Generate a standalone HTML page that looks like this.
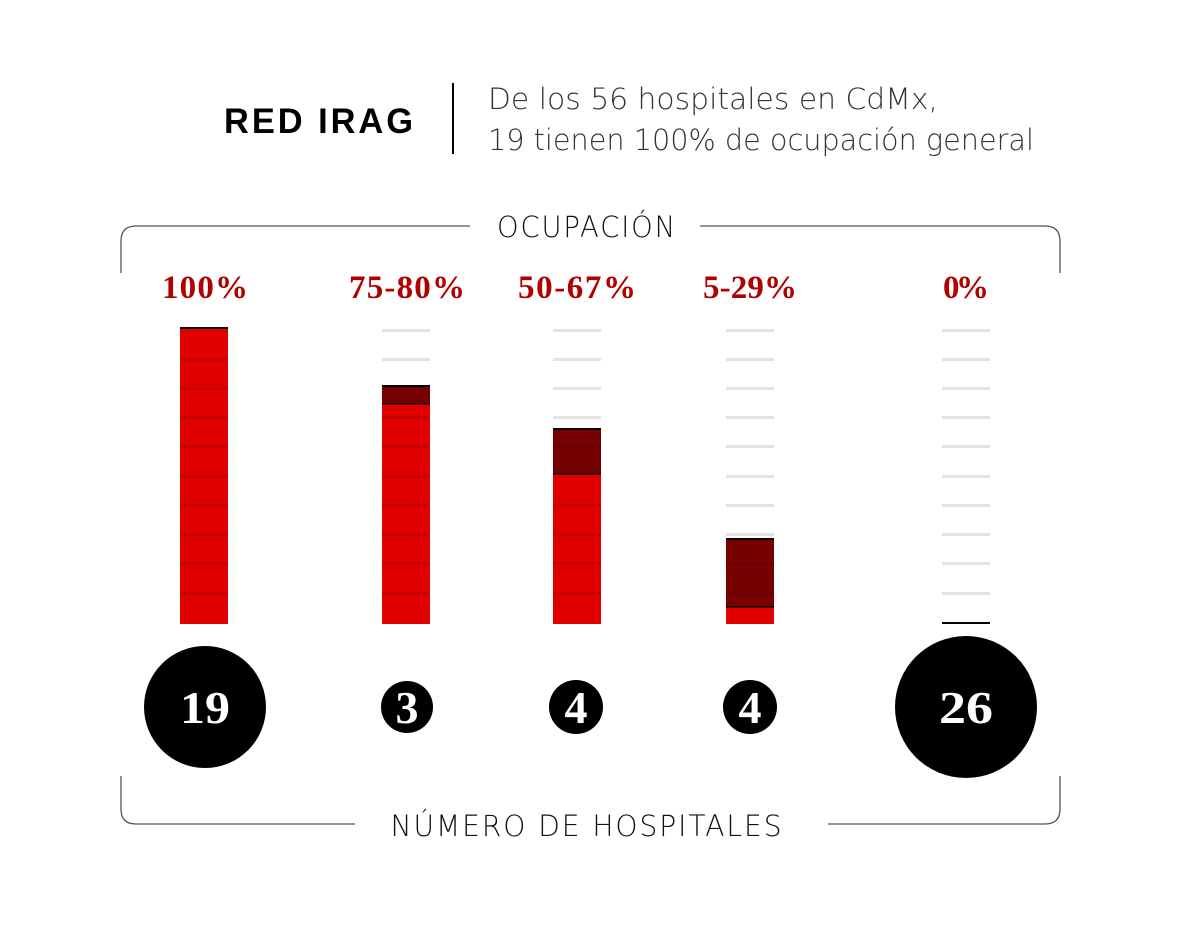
<!DOCTYPE html>
<html><head><meta charset="utf-8"><style>
html,body{margin:0;padding:0;background:#fff;}
svg{display:block}
</style></head><body>
<svg width="1200" height="940" viewBox="0 0 1200 940" xmlns="http://www.w3.org/2000/svg">
<rect width="1200" height="940" fill="#fff"/>
<text x="224" y="133" font-family="Liberation Sans, sans-serif" font-weight="bold" font-size="35" letter-spacing="3" fill="#000" textLength="192" lengthAdjust="spacingAndGlyphs">RED IRAG</text>
<line x1="453" y1="83" x2="453" y2="154" stroke="#000" stroke-width="2"/>
<g font-family="DejaVu Sans, sans-serif" font-weight="200" font-size="29" fill="#333">
<text x="488" y="109" textLength="450" lengthAdjust="spacingAndGlyphs">De los 56 hospitales en CdMx,</text>
<text x="488" y="150" textLength="546" lengthAdjust="spacingAndGlyphs">19 tienen 100% de ocupación general</text>
</g>
<path d="M121 273 V241 Q121 226 136 226 H470 M700 226 H1045 Q1060 226 1060 241 V273" fill="none" stroke="#555" stroke-width="1.3"/>
<path d="M121 776 V809 Q121 824 136 824 H355 M828 824 H1045 Q1060 824 1060 809 V776" fill="none" stroke="#555" stroke-width="1.3"/>
<text x="587" y="237" text-anchor="middle" font-family="DejaVu Sans, sans-serif" font-weight="200" font-size="29" letter-spacing="2" fill="#111" textLength="180" lengthAdjust="spacingAndGlyphs">OCUPACIÓN</text>
<text x="587" y="836" text-anchor="middle" font-family="DejaVu Sans, sans-serif" font-weight="200" font-size="29" letter-spacing="2" fill="#111" textLength="393" lengthAdjust="spacingAndGlyphs">NÚMERO DE HOSPITALES</text>
<g font-family="Liberation Serif, serif" font-weight="bold" font-size="33" fill="#b00000" text-anchor="middle" lengthAdjust="spacingAndGlyphs">
<text x="205" y="298" textLength="86">100%</text>
<text x="407" y="298" textLength="116">75-80%</text>
<text x="577" y="298" textLength="118">50-67%</text>
<text x="750" y="298" textLength="94">5-29%</text>
<text x="966" y="298" textLength="46">0%</text>
</g>
<g fill="#e3e3e3">
<rect x="382" y="329" width="48" height="3"/><rect x="382" y="358" width="48" height="3"/>
<rect x="553" y="329" width="48" height="3"/><rect x="553" y="358" width="48" height="3"/><rect x="553" y="387" width="48" height="3"/><rect x="553" y="416" width="48" height="3"/>
<rect x="726" y="329" width="48" height="3"/><rect x="726" y="358" width="48" height="3"/><rect x="726" y="387" width="48" height="3"/><rect x="726" y="416" width="48" height="3"/><rect x="726" y="445" width="48" height="3"/><rect x="726" y="475" width="48" height="3"/><rect x="726" y="504" width="48" height="3"/><rect x="726" y="533" width="48" height="3"/>
<rect x="942" y="329" width="48" height="3"/><rect x="942" y="358" width="48" height="3"/><rect x="942" y="387" width="48" height="3"/><rect x="942" y="416" width="48" height="3"/><rect x="942" y="445" width="48" height="3"/><rect x="942" y="475" width="48" height="3"/><rect x="942" y="504" width="48" height="3"/><rect x="942" y="533" width="48" height="3"/><rect x="942" y="562" width="48" height="3"/><rect x="942" y="592" width="48" height="3"/>
</g>
<rect x="180" y="328" width="48" height="296" fill="#e10000"/>
<rect x="382" y="404" width="48" height="220" fill="#e10000"/>
<rect x="382" y="386" width="48" height="18" fill="#770000"/>
<rect x="553" y="474" width="48" height="150" fill="#e10000"/>
<rect x="553" y="429" width="48" height="45" fill="#770000"/>
<rect x="726" y="607" width="48" height="17" fill="#e10000"/>
<rect x="726" y="539" width="48" height="68" fill="#770000"/>
<g fill="#000">
<rect x="180" y="327" width="48" height="2"/>
<rect x="382" y="385" width="48" height="2"/><rect x="382" y="403" width="48" height="1.5"/>
<rect x="553" y="428" width="48" height="2"/><rect x="553" y="473" width="48" height="1.5"/>
<rect x="726" y="538" width="48" height="2"/><rect x="726" y="606" width="48" height="1.5"/>
<rect x="942" y="622" width="48" height="2"/>
</g>
<g fill="#000" opacity="0.1">
<rect x="180" y="358" width="48" height="3"/><rect x="180" y="387" width="48" height="3"/><rect x="180" y="416" width="48" height="3"/><rect x="180" y="445" width="48" height="3"/><rect x="180" y="475" width="48" height="3"/><rect x="180" y="504" width="48" height="3"/><rect x="180" y="533" width="48" height="3"/><rect x="180" y="562" width="48" height="3"/><rect x="180" y="592" width="48" height="3"/>
<rect x="382" y="416" width="48" height="3"/><rect x="382" y="445" width="48" height="3"/><rect x="382" y="475" width="48" height="3"/><rect x="382" y="504" width="48" height="3"/><rect x="382" y="533" width="48" height="3"/><rect x="382" y="562" width="48" height="3"/><rect x="382" y="592" width="48" height="3"/>
<rect x="553" y="445" width="48" height="3"/><rect x="553" y="504" width="48" height="3"/><rect x="553" y="533" width="48" height="3"/><rect x="553" y="562" width="48" height="3"/><rect x="553" y="592" width="48" height="3"/>
<rect x="726" y="562" width="48" height="3"/><rect x="726" y="592" width="48" height="3"/>
</g>
<circle cx="205" cy="707" r="61" fill="#000"/>
<circle cx="407" cy="707" r="26" fill="#000"/>
<circle cx="576" cy="707" r="27" fill="#000"/>
<circle cx="750" cy="707" r="27" fill="#000"/>
<circle cx="966" cy="707" r="71" fill="#000"/>
<g font-family="Liberation Serif, serif" font-weight="bold" font-size="46" fill="#fff" text-anchor="middle">
<text x="205" y="723" textLength="50" lengthAdjust="spacingAndGlyphs">19</text>
<text x="407" y="723">3</text>
<text x="576" y="723">4</text>
<text x="750" y="723">4</text>
<text x="966" y="723" textLength="54" lengthAdjust="spacingAndGlyphs">26</text>
</g>
</svg>
</body></html>
